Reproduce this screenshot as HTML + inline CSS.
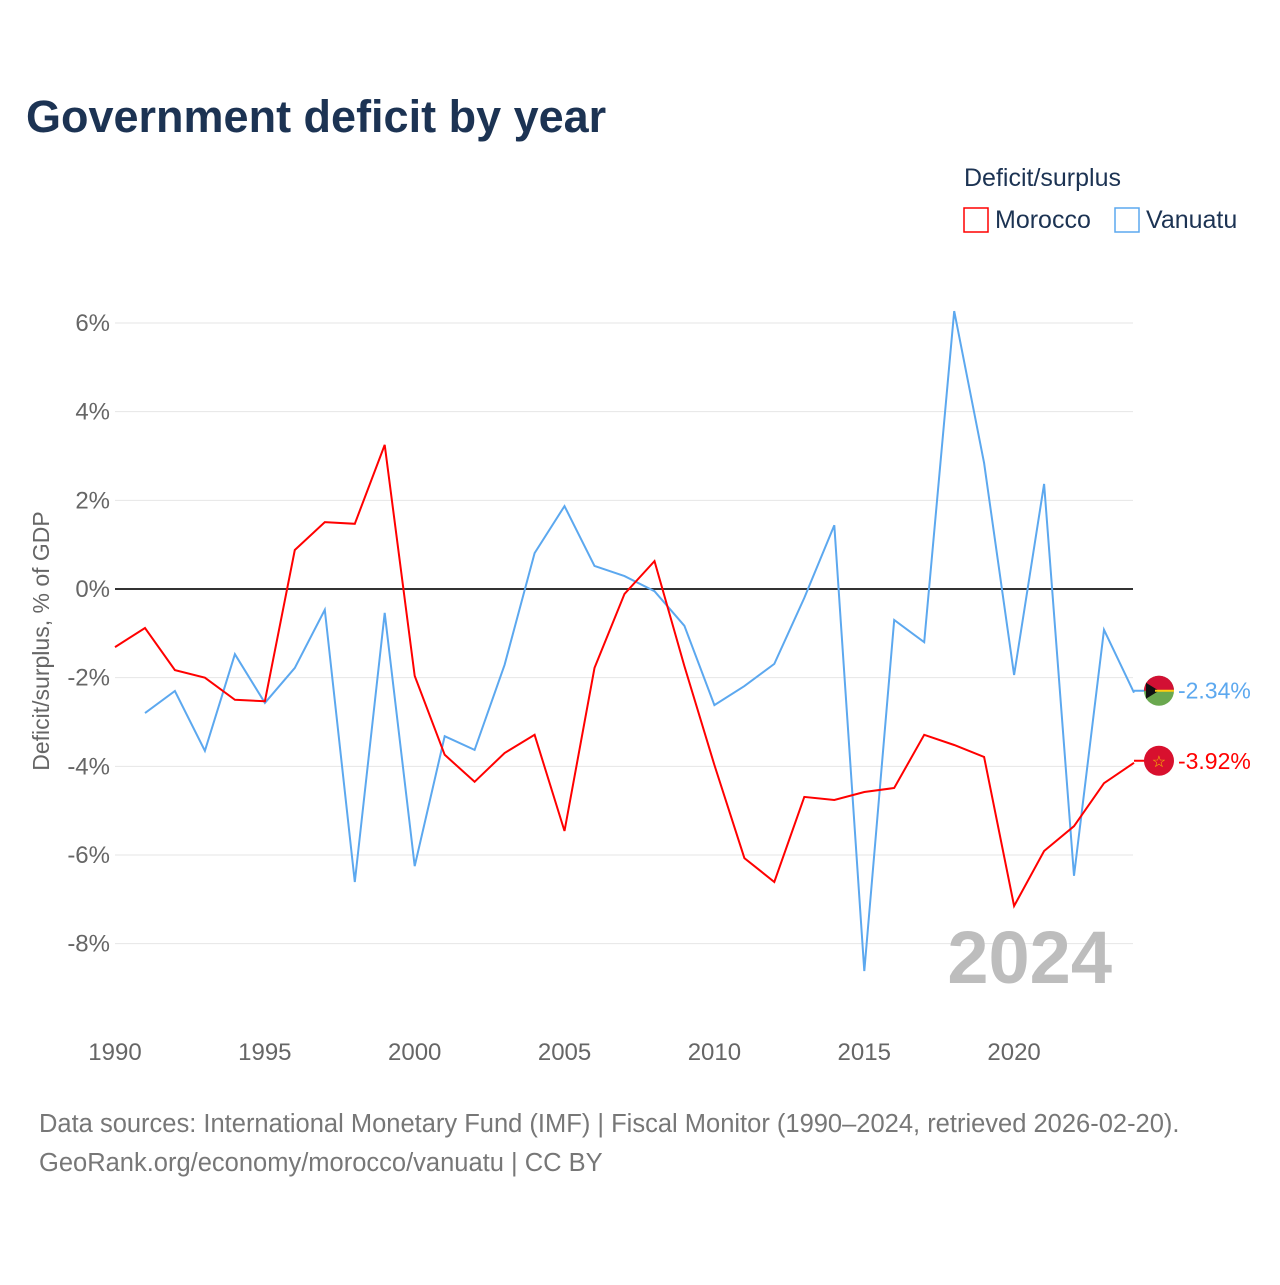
<!DOCTYPE html>
<html><head><meta charset="utf-8"><style>
body{margin:0;background:#fff;font-family:"Liberation Sans",sans-serif}
</style></head><body>
<svg width="1280" height="1280" viewBox="0 0 1280 1280" xmlns="http://www.w3.org/2000/svg" id="chart">
<text x="26" y="132" font-size="45" font-weight="bold" fill="#1c3353">Government deficit by year</text>
<text x="964" y="186" font-size="25" fill="#1c3353">Deficit/surplus</text>
<g><rect x="964" y="208" width="24" height="24" fill="none" stroke="#ff0000" stroke-width="1.5"/><text x="995" y="228" font-size="25" fill="#1c3353">Morocco</text></g>
<g><rect x="1115" y="208" width="24" height="24" fill="none" stroke="#5ca8ef" stroke-width="1.5"/><text x="1146" y="228" font-size="25" fill="#1c3353">Vanuatu</text></g>
<g id="grid"></g><g id="xt"></g>
<text x="1112" y="983" font-size="74" font-weight="bold" fill="#bdbdbd" text-anchor="end">2024</text>
<text transform="translate(49,641) rotate(-90)" font-size="23" fill="#666" text-anchor="middle">Deficit/surplus, % of GDP</text>
<g id="series"></g>
<text x="39" y="1132" font-size="25.5" fill="#777">Data sources: International Monetary Fund (IMF) | Fiscal Monitor (1990–2024, retrieved 2026-02-20).</text>
<text x="39" y="1171" font-size="25.5" fill="#777">GeoRank.org/economy/morocco/vanuatu | CC BY</text>
</svg>
<script>
const years=[1990,1991,1992,1993,1994,1995,1996,1997,1998,1999,2000,2001,2002,2003,2004,2005,2006,2007,2008,2009,2010,2011,2012,2013,2014,2015,2016,2017,2018,2019,2020,2021,2022,2023,2024];
const morocco=[-1.31,-0.88,-1.83,-2.0,-2.5,-2.53,0.88,1.51,1.47,3.25,-1.96,-3.74,-4.35,-3.7,-3.29,-5.46,-1.78,-0.11,0.63,-1.74,-3.97,-6.07,-6.61,-4.69,-4.76,-4.58,-4.49,-3.29,-3.52,-3.79,-7.15,-5.91,-5.35,-4.38,-3.92];
const vanuatu=[null,-2.8,-2.3,-3.65,-1.47,-2.57,-1.78,-0.47,-6.61,-0.54,-6.25,-3.32,-3.63,-1.71,0.81,1.87,0.52,0.29,-0.05,-0.83,-2.62,-2.19,-1.69,-0.2,1.44,-8.62,-0.7,-1.2,6.27,2.84,-1.94,2.37,-6.47,-0.92,-2.34];
const yTicks=[6,4,2,0,-2,-4,-6,-8];
const xTicks=[1990,1995,2000,2005,2010,2015,2020];
const NS="http://www.w3.org/2000/svg";
const X=y=>115+(y-1990)*29.97;
const Y=v=>589-v*44.33;
function mk(t,a,p){const e=document.createElementNS(NS,t);for(const k in a)e.setAttribute(k,a[k]);p.appendChild(e);return e;}
const grid=document.getElementById('grid');
yTicks.forEach(v=>{
 const l=mk('line',{x1:115,x2:1133,y1:Y(v),y2:Y(v),stroke:v===0?'#333':'#e6e6e6','stroke-width':v===0?2:1},grid);
 
 
 const t=mk('text',{x:110,y:Y(v)+8,'font-size':24,fill:'#666','text-anchor':'end'},grid);
 t.textContent=v+'%';
 
 
});
const xt=document.getElementById('xt');
xTicks.forEach(y=>{
 const t=mk('text',{x:X(y),y:1060,'font-size':24,fill:'#666','text-anchor':'middle'},xt);
 t.textContent=y;
 
 
});
const S=document.getElementById('series');
function line(vals,col,name){
 let d='';vals.forEach((v,i)=>{if(v===null)return;d+=(d?'L':'M')+X(years[i]).toFixed(1)+','+Y(v).toFixed(1);});
 const p=mk('path',{d:d,fill:'none',stroke:col,'stroke-width':2},S);
 
 
 const last=vals[vals.length-1];const cx=X(years[years.length-1])+25,cy=Y(last)-2;
 mk('line',{x1:X(2024),x2:cx,y1:cy,y2:cy,stroke:col,'stroke-width':2},S);
 const c=mk('circle',{cx:cx,cy:cy,r:15,fill:name==='morocco'?'#d8102e':'#6aa84f'},S);
 if(name==='vanuatu'){mk('path',{d:`M${cx-15},${cy} A15,15 0 0 1 ${cx+15},${cy} Z`,fill:'#d21034'},S);mk('path',{d:`M${cx-13},${cy-8} L${cx},${cy} L${cx-13},${cy+8} Z`,fill:'#111'},S);mk('line',{x1:cx-4,x2:cx+15,y1:cy,y2:cy,stroke:'#fdce12','stroke-width':2},S);}
 else{const s=mk('text',{x:cx,y:cy+6,'font-size':16,fill:'#f5c400','text-anchor':'middle'},S);s.textContent='☆';}
 
 
 const t=mk('text',{x:cx+19,y:cy+8,'font-size':23,fill:col},S);
 t.textContent=last.toFixed(2)+'%';
 
 
}
line(vanuatu,'#5ca8ef','vanuatu');
line(morocco,'#ff0000','morocco');
</script>
</body></html>
